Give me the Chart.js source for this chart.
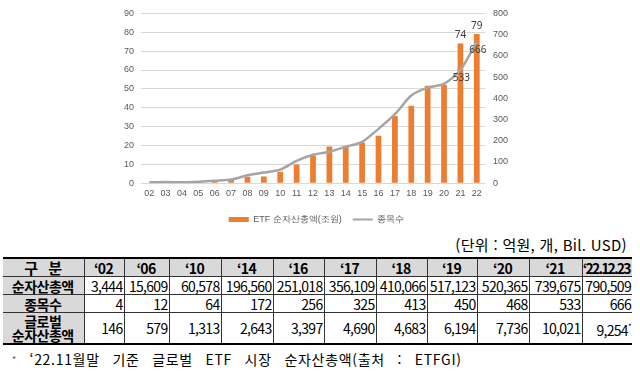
<!DOCTYPE html>
<html lang="ko">
<head>
<meta charset="utf-8">
<script src="https://cdn.jsdelivr.net/npm/chart.js@4.4.1/dist/chart.umd.min.js"></script>
<style>
  html, body { margin: 0; padding: 0; background: #fff; }
  body { width: 640px; height: 373px; position: relative; overflow: hidden; font-family: "Noto Sans CJK KR", "Noto Sans", sans-serif; color: #000; }
  #chartBox { position: absolute; left: 0; top: 0; width: 640px; height: 234px; }
  #unit { position: absolute; right: 13px; top: 235px; font-size: 15px; line-height: 20px; letter-spacing: 0.3px; }
  #tbl { position: absolute; left: 3px; top: 257px; border-collapse: collapse; table-layout: fixed; width: 629px; }
  #tbl td { border: 1px solid #333; padding: 0 1px 0 0; font-size: 14px; line-height: 16px; height: 17px; text-align: right; letter-spacing: -0.7px; white-space: nowrap; overflow: visible; }
  #tbl tr:first-child td { border-top: 2px solid #000; background: #d9d9d9; font-weight: bold; text-align: center; }
  #tbl tr:last-child td { border-bottom: 2px solid #000; }
  #tbl td:first-child { border-left: none; background: #d9d9d9; font-weight: bold; text-align: center; letter-spacing: -0.5px; }
  #tbl td:last-child { border-right: none; }
  #tbl tr.two td { height: 30px; line-height: 14px; }
  #note { position: absolute; left: 12px; top: 349px; font-size: 14px; line-height: 20px; word-spacing: 8px; letter-spacing: 0.7px; }
  #tbl sup { font-size: 8px; }
</style>
</head>
<body>
<div id="chartBox"><canvas id="etfChart"></canvas></div>
<div id="unit">(단위 : 억원, 개, Bil. USD)</div>
<table id="tbl"></table>
<div id="note"><span style="font-size:9px;color:#555;vertical-align:2px;">*</span> ‘22.11월말 기준 글로벌 ETF 시장 순자산총액(출처 : ETFGI)</div>

<script>
// chart data
const years = ['02','03','04','05','06','07','08','09','10','11','12','13','14','15','16','17','18','19','20','21','22'];
const etfAum = [0.3, 0.5, 0.3, 0.4, 1.6, 2.1, 3.4, 3.6, 6.1, 9.9, 14.7, 19.4, 19.7, 21.6, 25.1, 35.6, 41.0, 51.7, 52.0, 74.0, 79.1];
const etfCount = [4, 6, 4, 7, 12, 17, 37, 50, 64, 105, 134, 148, 172, 195, 256, 325, 413, 450, 468, 533, 666];
const labeledYears = ['21', '22'];
const leftTicks = [0, 90, 10];
const rightTicks = [0, 800, 100];

// table data
const tableCols = ['‘02', '‘06', '‘10', '‘14', '‘16', '‘17', '‘18', '‘19', '‘20', '‘21', '‘22.12.23'];
const tableAum = ['3,444', '15,609', '60,578', '196,560', '251,018', '356,109', '410,066', '517,123', '520,365', '739,675', '790,509'];
const tableCount = ['4', '12', '64', '172', '256', '325', '413', '450', '468', '533', '666'];
const tableGlobal = ['146', '579', '1,313', '2,643', '3,397', '4,690', '4,683', '6,194', '7,736', '10,021', '9,254'];
const colWidths = [81, 40, 45, 52, 52, 51, 52, 51, 50, 52, 53, 50];

// build table
const tbl = document.getElementById('tbl');
let html = '<colgroup>' + colWidths.map(w => '<col style="width:' + w + 'px">').join('') + '</colgroup>';
html += '<tr><td style="font-size:15px;letter-spacing:3px;padding-left:4px">구 분</td>' + tableCols.map((c, i) =>
  '<td' + (i === tableCols.length - 1 ? ' style="letter-spacing:-1.8px;padding-right:2px"' : '') + '>' + c + '</td>').join('') + '</tr>';
html += '<tr><td>순자산총액</td>' + tableAum.map(v => '<td>' + v + '</td>').join('') + '</tr>';
html += '<tr><td>종목수</td>' + tableCount.map(v => '<td>' + v + '</td>').join('') + '</tr>';
html += '<tr class="two"><td>글로벌<br>순자산총액</td>' + tableGlobal.map((v, i) =>
  '<td>' + v + (i === tableGlobal.length - 1 ? '<sup>*</sup>' : '') + '</td>').join('') + '</tr>';
tbl.innerHTML = html;

// value labels for last years
const valueLabels = {
  id: 'valueLabels',
  afterDatasetsDraw(chart) {
    const ctx = chart.ctx;
    ctx.save();
    ctx.font = '10px "Noto Sans", sans-serif';
    ctx.fillStyle = '#404040';
    ctx.textAlign = 'center';
    chart.data.datasets.forEach((ds, di) => {
      const meta = chart.getDatasetMeta(di);
      meta.data.forEach((el, i) => {
        if (!labeledYears.includes(years[i])) return;
        const txt = String(Math.round(ds.data[i]));
        if (ds.type === 'bar') {
          ctx.textBaseline = 'bottom';
          ctx.fillText(txt, el.x, el.y - 3);
        } else {
          ctx.textBaseline = 'middle';
          ctx.fillText(txt, el.x + 1, el.y + 8);
        }
      });
    });
    ctx.restore();
  }
};

new Chart(document.getElementById('etfChart'), {
  data: {
    labels: years,
    datasets: [
      {
        type: 'line',
        label: '종목수',
        data: etfCount,
        yAxisID: 'y2',
        borderColor: '#a5a5a5',
        backgroundColor: '#a5a5a5',
        borderWidth: 2.5,
        pointRadius: 0,
        tension: 0.25,
        order: 0
      },
      {
        type: 'bar',
        label: 'ETF 순자산총액(조원)',
        data: etfAum,
        yAxisID: 'y',
        backgroundColor: '#ed7d31',
        categoryPercentage: 0.35,
        barPercentage: 1,
        order: 1
      }
    ]
  },
  options: {
    responsive: true,
    maintainAspectRatio: false,
    animation: false,
    layout: { padding: { left: 117, right: 124, top: 9, bottom: 0 } },
    scales: {
      x: {
        grid: { display: false, drawTicks: false },
        border: { display: false },
        ticks: { color: '#595959', font: { size: 9 }, padding: 5, maxRotation: 0, autoSkip: false }
      },
      y: {
        position: 'left',
        min: leftTicks[0], max: leftTicks[1],
        ticks: { stepSize: leftTicks[2], color: '#595959', font: { size: 9 }, padding: 7 },
        grid: { color: '#d9d9d9', drawTicks: false },
        border: { display: false }
      },
      y2: {
        position: 'right',
        min: rightTicks[0], max: rightTicks[1],
        ticks: { stepSize: rightTicks[2], color: '#595959', font: { size: 9 }, padding: 8 },
        grid: { display: false, drawTicks: false },
        border: { display: false }
      }
    },
    plugins: {
      tooltip: { enabled: false },
      legend: {
        position: 'bottom',
        reverse: true,
        labels: {
          color: '#595959',
          font: { size: 9 },
          padding: 11,
          boxHeight: 5,
          usePointStyle: true,
          pointStyleWidth: 20,
          generateLabels(chart) {
            const items = Chart.defaults.plugins.legend.labels.generateLabels(chart);
            items.forEach(it => {
              const ds = chart.data.datasets[it.datasetIndex];
              if (ds.type === 'line') {
                it.pointStyle = 'line';
                it.lineWidth = 2;
                it.strokeStyle = '#a5a5a5';
              } else {
                it.pointStyle = 'rect';
                it.lineWidth = 0;
                it.fillStyle = '#ed7d31';
              }
            });
            return items;
          }
        }
      }
    }
  },
  plugins: [valueLabels]
});
</script>
</body>
</html>
